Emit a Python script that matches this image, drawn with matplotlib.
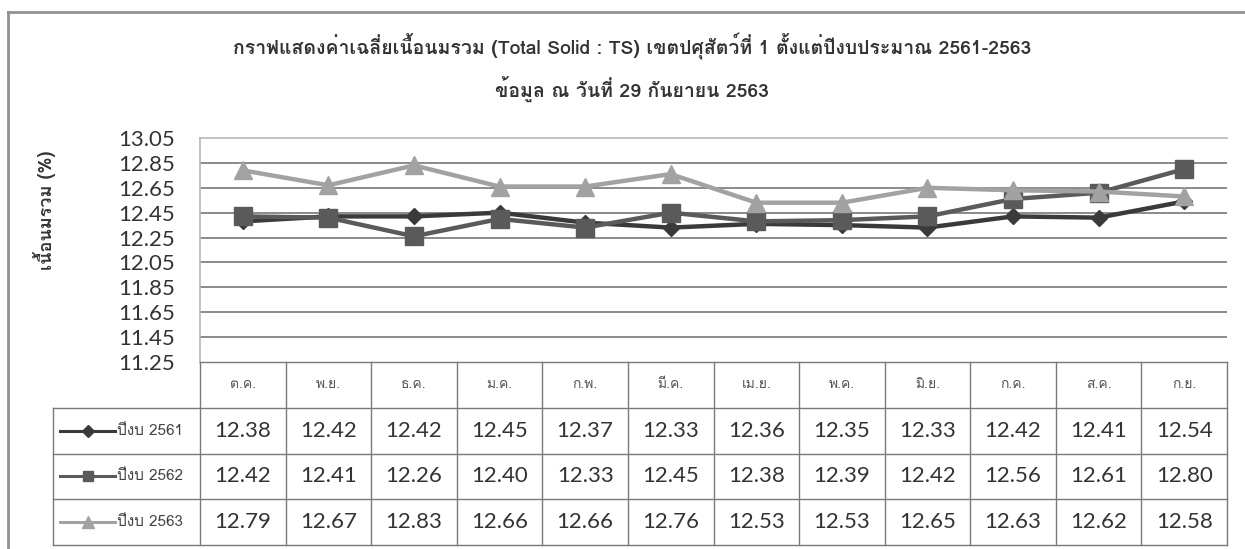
import matplotlib
matplotlib.use('Agg')
import matplotlib.pyplot as plt
import numpy as np
from matplotlib import font_manager, ft2font
from matplotlib.lines import Line2D

months = ['ต.ค.', 'พ.ย.', 'ธ.ค.', 'ม.ค.', 'ก.พ.', 'มี.ค.',
          'เม.ย.', 'พ.ค.', 'มิ.ย.', 'ก.ค.', 'ส.ค.', 'ก.ย.']
fy2561 = [12.38, 12.42, 12.42, 12.45, 12.37, 12.33, 12.36, 12.35, 12.33, 12.42, 12.41, 12.54]
fy2562 = [12.42, 12.41, 12.26, 12.40, 12.33, 12.45, 12.38, 12.39, 12.42, 12.56, 12.61, 12.80]
fy2563 = [12.79, 12.67, 12.83, 12.66, 12.66, 12.76, 12.53, 12.53, 12.65, 12.63, 12.62, 12.58]
series_names = ['ปีงบ 2561', 'ปีงบ 2562', 'ปีงบ 2563']
yticks = [11.25, 11.45, 11.65, 11.85, 12.05, 12.25, 12.45, 12.65, 12.85, 13.05]

title1 = 'กราฟแสดงค่าเฉลี่ยเนื้อนมรวม (Total Solid : TS) เขตปศุสัตว์ที่ 1 ตั้งแต่ปีงบประมาณ 2561-2563'
title2 = 'ข้อมูล ณ วันที่ 29 กันยายน 2563'
ylabel = 'เนื้อนมรวม (%)'


def thai_family():
    # look for any installed font that covers Thai
    for f in font_manager.fontManager.ttflist:
        try:
            if 0x0E01 in ft2font.FT2Font(f.fname).get_charmap():
                return f.name
        except Exception:
            pass
    return None

th = thai_family()
thai_fonts = ([th] if th else []) + ['DejaVu Sans']
thai_serif = ([th] if th else []) + ['Liberation Serif', 'DejaVu Sans']
num_font = ['Lato', 'DejaVu Sans']

# colour, marker, marker size in plot, marker size in table legend
styles = [dict(color='#3a3a3a', marker='D', ms=8.5, lms=6),
          dict(color='#5a5a5a', marker='s', ms=12.5, lms=7),
          dict(color='#a2a2a2', marker='^', ms=13, lms=8)]
data = [fy2561, fy2562, fy2563]

W, H = 1245, 549
fig = plt.figure(figsize=(W / 100, H / 100), dpi=100)

left, right = 200 / W, 1227 / W
ptop, pbot = 1 - 138 / H, 1 - 362 / H
tbot = 1 - 545 / H
colw = (1227 - 200) / 12

ax = fig.add_axes([left, pbot, right - left, ptop - pbot])
x = np.arange(len(months))
for vals, st in zip(data, styles):
    ax.plot(x, vals, color=st['color'], lw=3.2, marker=st['marker'],
            ms=st['ms'], mfc=st['color'], mec=st['color'])
for t in yticks[1:-1]:
    ax.axhline(t, color='#8a8a8a', lw=1.4, zorder=0)
ax.set_xlim(-0.5, 11.5)
ax.set_ylim(11.25, 13.05)
ax.set_yticks(yticks)
ax.set_yticklabels(['%.2f' % t for t in yticks], family=num_font, fontsize=16,
                   color='#333333')
ax.tick_params(axis='y', length=0, pad=18)
ax.set_xticks([])
for s in ['right', 'bottom']:
    ax.spines[s].set_visible(False)
for s in ['top', 'left']:
    ax.spines[s].set_color('#b8b8b8')
    ax.spines[s].set_linewidth(1.2)

# data table under the plot
tax = fig.add_axes([left, tbot, right - left, pbot - tbot])
tax.set_xlim(-0.5, 11.5)
tax.set_ylim(4, 0)
tax.axis('off')
gc = '#7a7a7a'
leg_left = -0.5 - (200 - 53) / colw
for i in range(13):
    tax.plot([i - 0.5, i - 0.5], [0, 4], color=gc, lw=1, clip_on=False)
tax.plot([-0.5, 11.5], [0, 0], color=gc, lw=1, clip_on=False)
for r in range(1, 5):
    tax.plot([leg_left, 11.5], [r, r], color=gc, lw=1, clip_on=False)
tax.plot([leg_left, leg_left], [1, 4], color=gc, lw=1, clip_on=False)

for i, m in enumerate(months):
    tax.text(i, 0.5, m, ha='center', va='center', fontsize=10,
             family=thai_fonts, color='#555555')
x0 = -0.5 - (200 - 60) / colw
x1 = -0.5 - (200 - 115) / colw
for r, (vals, st, name) in enumerate(zip(data, styles, series_names)):
    yc = r + 1.5
    for i, v in enumerate(vals):
        tax.text(i, yc, '%.2f' % v, ha='center', va='center', fontsize=16,
                 family=num_font, color='#333333')
    tax.plot([x0, x1], [yc, yc], color=st['color'], lw=2.2, clip_on=False)
    tax.plot([(x0 + x1) / 2], [yc], marker=st['marker'], ms=st['lms'],
             color=st['color'], clip_on=False)
    tax.text(x1 + 0.02, yc, name, ha='left', va='center', fontsize=11,
             family=thai_fonts, color='#444444')

fig.text(632 / W, 1 - 47 / H, title1, ha='center', va='center', fontsize=14,
         fontweight='bold', family=thai_serif, color='#333333')
fig.text(632 / W, 1 - 89 / H, title2, ha='center', va='center', fontsize=14,
         fontweight='bold', family=thai_serif, color='#333333')
fig.text(45 / W, 1 - 210 / H, ylabel, ha='center', va='center', rotation=90,
         fontsize=13, fontweight='bold', family=thai_serif, color='#333333')

# outer frame of the scanned sheet
fig.add_artist(Line2D([8 / W, 1], [1 - 12 / H, 1 - 12 / H], color='#909090', lw=2))
fig.add_artist(Line2D([8 / W, 8 / W], [0, 1 - 12 / H], color='#909090', lw=2))

fig.savefig('out.png', dpi=100)
